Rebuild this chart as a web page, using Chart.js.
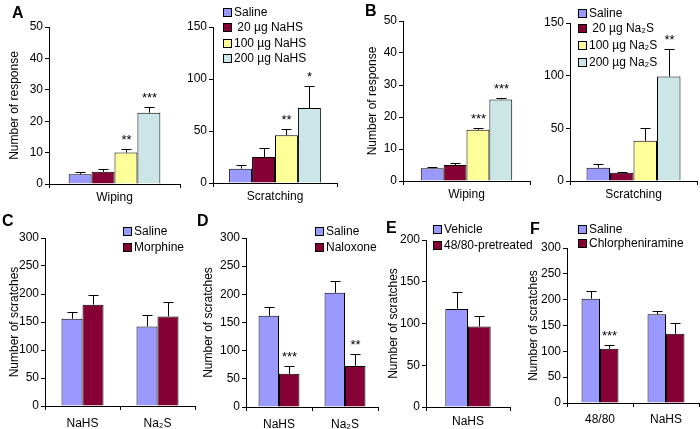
<!DOCTYPE html>
<html>
<head>
<meta charset="utf-8">
<script src="https://cdn.jsdelivr.net/npm/chart.js@4"></script>
<style>
  html, body { margin:0; padding:0; background:#fff; }
  body { position:relative; width:700px; height:429px; overflow:hidden; font-family:"Liberation Sans", Arial, sans-serif; color:#000; }
  .letter { position:absolute; font-weight:bold; font-size:16px; line-height:16px; }
  .leg { position:absolute; font-size:12px; line-height:14px; white-space:pre; }
  .leg i { position:absolute; width:7px; height:7px; border:1px solid #000; }
</style>
</head>
<body>
<script>
// ── colours ────────────────────────────────────────────────
const C_SALINE = '#9999ff';
const C_MAROON = '#850035';
const C_YELLOW = '#ffff99';
const C_CYAN   = '#cce6e8';
const FONT = '"Liberation Sans", Arial, sans-serif';

// ── A: NaHS dose response ──────────────────────────────────
const doseNaHS       = ['Saline', ' 20 µg NaHS', '100 µg NaHS', '200 µg NaHS'];
const wipeNaHS       = [3.1, 3.9, 10.0, 22.7];
const wipeNaHSErr    = [0.8, 0.8, 1.0, 1.8];
const wipeNaHSStars  = ['', '', '**', '***'];
const scrNaHS        = [13.8, 25, 46, 72];
const scrNaHSErr     = [3.2, 8.6, 6.2, 21];
const scrNaHSStars   = ['', '', '**', '*'];

// ── B: Na2S dose response ──────────────────────────────────
const doseNa2S       = ['Saline', ' 20 µg Na₂S', '100 µg Na₂S', '200 µg Na₂S'];
const wipeNa2S       = [4.0, 5.0, 16.0, 25.5];
const wipeNa2SErr    = [0.4, 0.5, 0.6, 0.3];
const wipeNa2SStars  = ['', '', '***', '***'];
const scrNa2S        = [12.6, 7.9, 38.2, 99.2];
const scrNa2SErr     = [3.2, 0.9, 12.3, 26.5];
const scrNa2SStars   = ['', '', '', '**'];

// ── C: morphine ────────────────────────────────────────────
const donorLabels    = ['NaHS', 'Na₂S'];
const cSaline        = [156, 142];
const cSalineErr     = [12, 21];
const cMorphine      = [181, 160];
const cMorphineErr   = [18, 25];

// ── D: naloxone ────────────────────────────────────────────
const dSaline        = [162, 203];
const dSalineErr     = [15, 21];
const dNaloxone      = [59, 73];
const dNaloxoneErr   = [13, 21];
const dNaloxoneStars = ['***', '**'];

// ── E: 48/80 pretreatment ──────────────────────────────────
const eLabels        = ['NaHS'];
const eVehicle       = [117.5];
const eVehicleErr    = [20.5];
const ePretreated    = [96.4];
const ePretreatedErr = [12.6];

// ── F: chlorpheniramine ────────────────────────────────────
const fLabels        = ['48/80', 'NaHS'];
const fSaline        = [202, 172];
const fSalineErr     = [14, 7];
const fChlor         = [105, 134];
const fChlorErr      = [8, 20];
const fChlorStars    = ['***', ''];

// error bars (upper only) + significance stars
const errPlugin = {
  id: 'errBars',
  afterDatasetsDraw(chart){
    const ctx = chart.ctx, y = chart.scales.y;
    ctx.save();
    ctx.strokeStyle = '#000'; ctx.lineWidth = 1;
    chart.data.datasets.forEach((ds, di) => {
      chart.getDatasetMeta(di).data.forEach((bar, i) => {
        const top = y.getPixelForValue(ds.data[i] + (ds.err ? ds.err[i] : 0));
        const x = Math.round(bar.x) + 0.5;
        const ty = Math.round(top) + 0.5;
        ctx.beginPath();
        ctx.moveTo(x, bar.y); ctx.lineTo(x, ty);
        ctx.moveTo(x - 5, ty); ctx.lineTo(x + 5, ty);
        ctx.stroke();
        const s = ds.stars && ds.stars[i];
        if(s){
          ctx.fillStyle = '#000';
          ctx.font = '13px ' + FONT;
          ctx.textAlign = 'center'; ctx.textBaseline = 'alphabetic';
          ctx.fillText(s, x, top - 5);
        }
      });
    });
    ctx.restore();
  }
};

function panel(o){
  const left = o.titleX - 11, top = o.ty - 10;
  const W = o.ar + 2 - left, H = o.by + 30 - top;
  const cv = document.createElement('canvas');
  cv.width = W; cv.height = H;
  cv.style.cssText = `position:absolute;left:${left}px;top:${top}px`;
  document.body.appendChild(cv);
  const yw = o.ax - left;
  new Chart(cv, {
    type: 'bar',
    data: {
      labels: o.labels,
      datasets: o.series.map(s => ({
        label: s.name, data: s.values, err: s.err, stars: s.stars,
        backgroundColor: s.color, borderColor: '#000', borderWidth: 1, borderSkipped: 'bottom',
        barPercentage: 1, categoryPercentage: o.cat
      }))
    },
    options: {
      responsive: false, animation: false,
      layout: { padding: { top: 10, right: 2, left: 0, bottom: 0 } },
      plugins: { legend: { display: false }, tooltip: { enabled: false } },
      scales: {
        x: {
          grid: { offset: true, drawOnChartArea: false, tickLength: 4, color: '#000' },
          border: { color: '#000' },
          ticks: { color: '#000', font: { family: FONT, size: 12 }, padding: o.xpad },
          afterFit: s => { s.height = 30; }
        },
        y: {
          min: 0, max: o.ymax,
          ticks: { stepSize: o.step, color: '#000', font: { family: FONT, size: 12 }, padding: 2 },
          grid: { drawOnChartArea: false, tickLength: 4, color: '#000' },
          border: { color: '#000' },
          title: { display: !!o.ytitle, text: o.ytitle, color: '#000', font: { family: FONT, size: 12 } },
          afterFit: s => { s.width = yw; }
        }
      }
    },
    plugins: [errPlugin]
  });
}

function legend(x, ys, names, colors){
  names.forEach((n, i) => {
    const d = document.createElement('div');
    d.className = 'leg';
    d.style.left = (x + 11) + 'px'; d.style.top = (ys[i] - 7) + 'px';
    d.innerHTML = `<i style="left:-11px;top:3px;background:${colors[i]}"></i>`;
    d.appendChild(document.createTextNode(n));
    document.body.appendChild(d);
  });
}

function letter(t, x, y){
  const d = document.createElement('div');
  d.className = 'letter'; d.textContent = t;
  d.style.left = x + 'px'; d.style.top = y + 'px';
  document.body.appendChild(d);
}

const doseColors = [C_SALINE, C_MAROON, C_YELLOW, C_CYAN];
const perDose = (vals, errs, stars, names) => vals.map((v, i) => ({ name: names[i], values: [v], err: [errs[i]], stars: [stars[i]], color: doseColors[i] }));

// A
panel({ titleX: 14, ax: 49, ar: 180, ty: 27, by: 184, ymax: 50, step: 10, cat: 0.7, xpad: 2,
  ytitle: 'Number of response', labels: ['Wiping'], series: perDose(wipeNaHS, wipeNaHSErr, wipeNaHSStars, doseNaHS) });
panel({ titleX: 190, ax: 213, ar: 337, ty: 27, by: 183, ymax: 150, step: 50, cat: 0.74, xpad: 2,
  labels: ['Scratching'], series: perDose(scrNaHS, scrNaHSErr, scrNaHSStars, doseNaHS) });
legend(223, [12, 27, 43, 58], doseNaHS, doseColors);
letter('A', 12, 5);

// B
panel({ titleX: 372, ax: 403, ar: 530, ty: 21, by: 181, ymax: 50, step: 10, cat: 0.72, xpad: 2,
  ytitle: 'Number of response', labels: ['Wiping'], series: perDose(wipeNa2S, wipeNa2SErr, wipeNa2SStars, doseNa2S) });
panel({ titleX: 545, ax: 570, ar: 697, ty: 23, by: 181, ymax: 150, step: 50, cat: 0.74, xpad: 2,
  labels: ['Scratching'], series: perDose(scrNa2S, scrNa2SErr, scrNa2SStars, doseNa2S) });
legend(578, [13, 28, 45, 62], doseNa2S, doseColors);
letter('B', 365, 3);

// C
panel({ titleX: 14, ax: 45, ar: 195, ty: 238, by: 406, ymax: 300, step: 50, cat: 0.56, xpad: 6,
  ytitle: 'Number of scratches', labels: donorLabels, series: [
    { name: 'Saline', values: cSaline, err: cSalineErr, color: C_SALINE },
    { name: 'Morphine', values: cMorphine, err: cMorphineErr, color: C_MAROON } ] });
legend(123, [231, 247], ['Saline', 'Morphine'], [C_SALINE, C_MAROON]);
letter('C', 2, 213);

// D
panel({ titleX: 208, ax: 246, ar: 378, ty: 238, by: 407, ymax: 300, step: 50, cat: 0.62, xpad: 6,
  ytitle: 'Number of scratches', labels: donorLabels, series: [
    { name: 'Saline', values: dSaline, err: dSalineErr, color: C_SALINE },
    { name: 'Naloxone', values: dNaloxone, err: dNaloxoneErr, stars: dNaloxoneStars, color: C_MAROON } ] });
legend(315, [231, 247], ['Saline', 'Naloxone'], [C_SALINE, C_MAROON]);
letter('D', 197, 213);

// E
panel({ titleX: 393, ax: 426, ar: 510, ty: 240, by: 407, ymax: 200, step: 50, cat: 0.54, xpad: 3,
  ytitle: 'Number of scratches', labels: eLabels, series: [
    { name: 'Vehicle', values: eVehicle, err: eVehicleErr, color: C_SALINE },
    { name: '48/80-pretreated', values: ePretreated, err: ePretreatedErr, color: C_MAROON } ] });
legend(433, [229, 245], ['Vehicle', '48/80-pretreated'], [C_SALINE, C_MAROON]);
letter('E', 386, 220);

// F
panel({ titleX: 533, ax: 567, ar: 699, ty: 248, by: 403, ymax: 300, step: 50, cat: 0.56, xpad: 5,
  ytitle: 'Number of scratches', labels: fLabels, series: [
    { name: 'Saline', values: fSaline, err: fSalineErr, color: C_SALINE },
    { name: 'Chlorpheniramine', values: fChlor, err: fChlorErr, stars: fChlorStars, color: C_MAROON } ] });
legend(578, [229, 243], ['Saline', 'Chlorpheniramine'], [C_SALINE, C_MAROON]);
letter('F', 530, 221);
</script>
</body>
</html>
